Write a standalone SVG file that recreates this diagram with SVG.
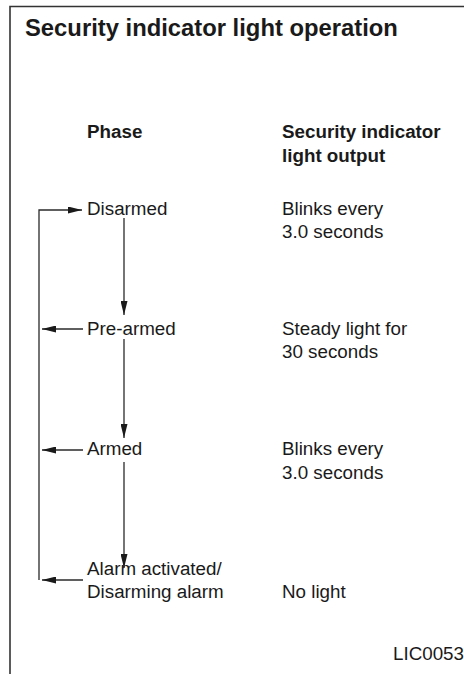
<svg xmlns="http://www.w3.org/2000/svg" width="464" height="674" viewBox="0 0 464 674">
<defs>
<style>
text{font-family:"Liberation Sans",Arial,sans-serif;fill:#1a1a1a;font-size:18.8px}
.b{font-weight:bold}
.t{font-weight:bold;font-size:23.8px}
.ln{stroke:#2a2a2a;stroke-width:1.3;fill:none}
.fr{stroke:#333;stroke-width:1.6;fill:none}
</style>
<marker id="ah" viewBox="0 0 14 7" refX="14" refY="3.5" markerWidth="14" markerHeight="7" markerUnits="userSpaceOnUse" orient="auto">
<path d="M0,0 L14,3.5 L0,7 Z" fill="#1a1a1a"/>
</marker>
</defs>
<rect width="464" height="674" fill="#fff"/>
<path class="fr" d="M10,674 V6.5 H464"/>
<text class="t" x="25" y="36">Security indicator light operation</text>
<g id="hdr-phase"><text class="b" x="87" y="138">Phase</text></g>
<g id="hdr-output"><text class="b" x="282" y="138">Security indicator</text><text class="b" x="282" y="162">light output</text></g>
<g id="disarmed"><text x="87" y="215">Disarmed</text></g>
<g id="prearmed"><text x="87" y="335">Pre-armed</text></g>
<g id="armed"><text x="87" y="455">Armed</text></g>
<g id="alarm"><text x="87" y="575">Alarm activated/</text><text x="87" y="598">Disarming alarm</text></g>
<g id="out-disarmed"><text x="282" y="215">Blinks every</text><text x="282" y="238">3.0 seconds</text></g>
<g id="out-prearmed"><text x="282" y="335">Steady light for</text><text x="282" y="358">30 seconds</text></g>
<g id="out-armed"><text x="282" y="455">Blinks every</text><text x="282" y="479">3.0 seconds</text></g>
<g id="out-alarm"><text x="282" y="598">No light</text></g>
<text x="464" y="660" text-anchor="end">LIC0053</text>
<g id="connectors">
<path class="ln" d="M124,218 V315" marker-end="url(#ah)"/>
<path class="ln" d="M124,339 V438" marker-end="url(#ah)"/>
<path class="ln" d="M124,462 V568" marker-end="url(#ah)"/>
<path class="ln" d="M39,580 V210 H82" marker-end="url(#ah)"/>
<path class="ln" d="M83,329 H42" marker-end="url(#ah)"/>
<path class="ln" d="M83,450 H42" marker-end="url(#ah)"/>
<path class="ln" d="M83,580 H42" marker-end="url(#ah)"/>
</g>
</svg>
